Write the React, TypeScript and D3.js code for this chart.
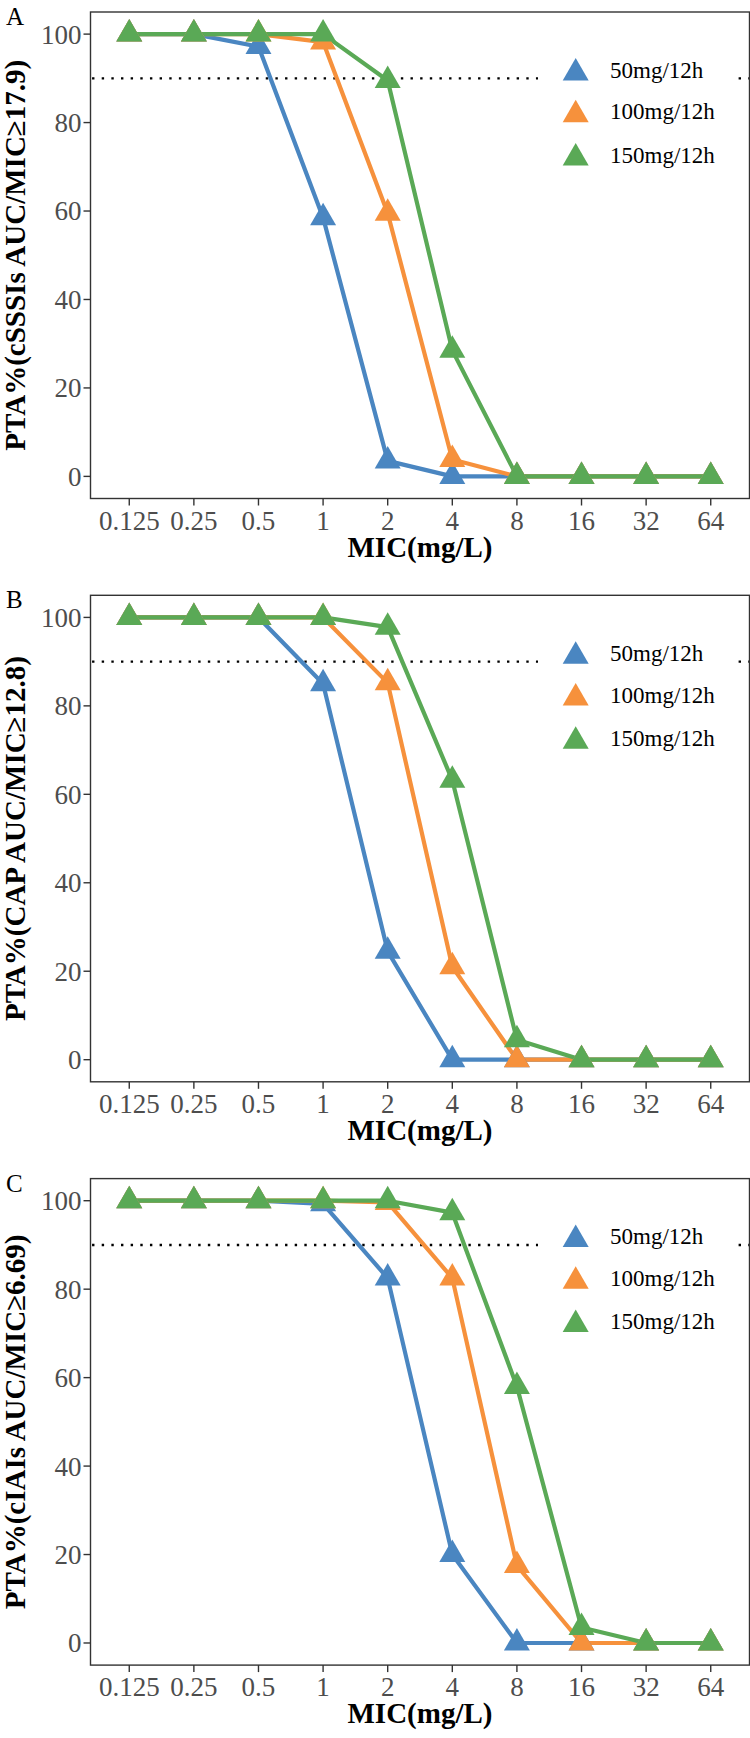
import React from "react";
import * as d3 from "d3";

const micLabels = ["0.125", "0.25", "0.5", "1", "2", "4", "8", "16", "32", "64"];
const seriesNames = ["50mg/12h", "100mg/12h", "150mg/12h"];
const seriesColors = ["#4A86C1", "#F6913C", "#5AA956"];
const yTicks = [0, 20, 40, 60, 80, 100];
const targetLine = 90;

const panelLabels = ["A", "B", "C"];
const yTitles = [
  "PTA%(cSSSIs AUC/MIC≥17.9)",
  "PTA%(CAP AUC/MIC≥12.8)",
  "PTA%(cIAIs AUC/MIC≥6.69)",
];
const xTitle = "MIC(mg/L)";

const panelA_50 = [100, 100, 97.2, 58.5, 3.5, 0, 0, 0, 0, 0];
const panelA_100 = [100, 100, 100, 98.2, 59.5, 3.8, 0, 0, 0, 0];
const panelA_150 = [100, 100, 100, 100, 89.5, 28.5, 0, 0, 0, 0];

const panelB_50 = [100, 100, 100, 85, 24.5, 0, 0, 0, 0, 0];
const panelB_100 = [100, 100, 100, 100, 85.2, 21, 0, 0, 0, 0];
const panelB_150 = [100, 100, 100, 100, 97.8, 63.2, 4.5, 0, 0, 0];

const panelC_50 = [100, 100, 100, 99.3, 82.5, 20, 0, 0, 0, 0];
const panelC_100 = [100, 100, 100, 100, 99.6, 82.5, 17.5, 0, 0, 0];
const panelC_150 = [100, 100, 100, 100, 100, 97.3, 58, 3.5, 0, 0];

const panelsData = [
  [panelA_50, panelA_100, panelA_150],
  [panelB_50, panelB_100, panelB_150],
  [panelC_50, panelC_100, panelC_150],
];

const W = 750;
const H = 1738;
const LEFT = 90.5;
const RIGHT = 749.5;
const TOPS = [12, 595.3, 1178.6];
const PH = 486.5;
const FONT = "'Liberation Serif', 'Times New Roman', serif";

function triPath(cx: number, cy: number, r: number) {
  const xc = (r * Math.sqrt(3)) / 2;
  return `M${cx},${cy - r}L${cx + xc},${cy + r / 2}L${cx - xc},${cy + r / 2}Z`;
}

function Panel({ idx }: { idx: number }) {
  const top = TOPS[idx];
  const bottom = top + PH;
  const x = d3.scalePoint<string>().domain(micLabels).range([LEFT, RIGHT]).padding(0.6);
  const y = d3.scaleLinear().domain([-5, 105]).range([bottom, top]);
  const line = d3
    .line<number>()
    .x((_, i) => x(micLabels[i]) as number)
    .y((d) => y(d));
  const data = panelsData[idx];
  const yLine = y(targetLine);
  const period = 9.65;
  const firstDot = 11.2 % period;
  const legX = 575.7;
  const legTextX = 610;
  const legRows = [57.7, 99.4, 142.7];
  const r = 15;

  return (
    <g>
      <rect x={LEFT} y={top} width={RIGHT - LEFT} height={PH} fill="#fff" />
      {/* target line */}
      <line
        x1={LEFT}
        x2={RIGHT}
        y1={yLine}
        y2={yLine}
        stroke="#000"
        strokeWidth={2.4}
        strokeDasharray={`2.4 ${period - 2.4}`}
        strokeDashoffset={period - firstDot}
      />
      {/* lines */}
      {data.map((s, i) => (
        <path key={"l" + i} d={line(s) || ""} fill="none" stroke={seriesColors[i]} strokeWidth={4.2} strokeLinejoin="round" />
      ))}
      {/* points */}
      {data.map((s, i) => (
        <g key={"p" + i}>
          {s.map((v, j) => (
            <path key={j} d={triPath(x(micLabels[j]) as number, y(v), r)} fill={seriesColors[i]} />
          ))}
        </g>
      ))}
      {/* legend */}
      <rect x={538} y={top + 30} width={197} height={140} fill="#fff" />
      {seriesNames.map((n, i) => (
        <g key={"lg" + i}>
          <path d={triPath(legX, top + legRows[i] + 3.3, r)} fill={seriesColors[i]} />
          <text x={legTextX} y={top + legRows[i]} dy="0.35em" fontFamily={FONT} fontSize={23} fill="#000">
            {n}
          </text>
        </g>
      ))}
      {/* border */}
      <rect x={LEFT} y={top} width={RIGHT - LEFT} height={PH} fill="none" stroke="#333" strokeWidth={1.4} />
      {/* y axis ticks */}
      {yTicks.map((t) => (
        <g key={"yt" + t}>
          <line x1={LEFT - 7} x2={LEFT} y1={y(t)} y2={y(t)} stroke="#333" strokeWidth={1.4} />
          <text x={LEFT - 9} y={y(t)} dy="0.35em" textAnchor="end" fontFamily={FONT} fontSize={27} fill="#4D4D4D">
            {t}
          </text>
        </g>
      ))}
      {/* x axis ticks */}
      {micLabels.map((m) => (
        <g key={"xt" + m}>
          <line x1={x(m) as number} x2={x(m) as number} y1={bottom} y2={bottom + 7} stroke="#333" strokeWidth={1.4} />
          <text x={x(m) as number} y={bottom + 31} textAnchor="middle" fontFamily={FONT} fontSize={27} fill="#4D4D4D">
            {m}
          </text>
        </g>
      ))}
      {/* titles */}
      <text x={(LEFT + RIGHT) / 2} y={bottom + 58} textAnchor="middle" fontFamily={FONT} fontSize={29} fontWeight="bold" fill="#000">
        {xTitle}
      </text>
      <text
        transform={`translate(25,${(top + bottom) / 2}) rotate(-90)`}
        textAnchor="middle"
        fontFamily={FONT}
        fontSize={29}
        fontWeight="bold"
        fill="#000"
      >
        {yTitles[idx]}
      </text>
      <text x={6} y={top + 13} fontFamily={FONT} fontSize={25} fill="#000">
        {panelLabels[idx]}
      </text>
    </g>
  );
}

export default function App() {
  return (
    <svg
      width={W}
      height={H}
      viewBox={`0 0 ${W} ${H}`}
      style={{ position: "absolute", left: 0, top: 0, display: "block", background: "#fff" }}
    >
      <rect x={0} y={0} width={W} height={H} fill="#fff" />
      {[0, 1, 2].map((i) => (
        <Panel key={i} idx={i} />
      ))}
    </svg>
  );
}
